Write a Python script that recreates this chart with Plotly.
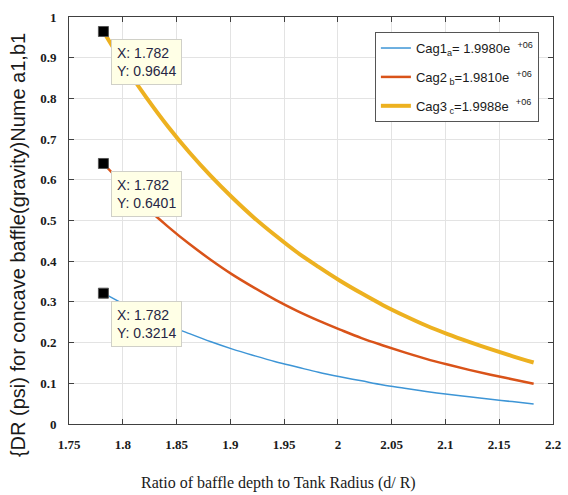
import plotly.graph_objects as go

# ---- data ----
x_vals = [1.782, 1.802, 1.822, 1.842, 1.862, 1.882, 1.902, 1.922, 1.942, 1.962, 1.982,
          2.002, 2.022, 2.042, 2.062, 2.082, 2.102, 2.122, 2.142, 2.162, 2.182]
cag1 = [0.3214, 0.293, 0.267, 0.243, 0.222, 0.202, 0.184, 0.168, 0.153, 0.140, 0.127,
        0.116, 0.106, 0.096, 0.088, 0.080, 0.073, 0.067, 0.061, 0.055, 0.049]
cag2 = [0.6401, 0.584, 0.532, 0.485, 0.442, 0.403, 0.367, 0.335, 0.305, 0.278, 0.254,
        0.232, 0.211, 0.193, 0.176, 0.160, 0.146, 0.133, 0.121, 0.110, 0.099]
cag3 = [0.9644, 0.879, 0.802, 0.731, 0.667, 0.609, 0.556, 0.507, 0.463, 0.422, 0.386,
        0.352, 0.321, 0.292, 0.266, 0.242, 0.221, 0.202, 0.184, 0.167, 0.151]
names = ["Cag1<sub>a</sub>= 1.9980e&nbsp;&nbsp;<sup>+06</sup>",
         "Cag2<sub> b</sub>=1.9810e&nbsp;&nbsp;<sup>+06</sup>",
         "Cag3<sub> c</sub>=1.9988e&nbsp;&nbsp;<sup>+06</sup>"]
colors = ["#3d95d6", "#D95319", "#EDB120"]
widths = [1.5, 2.5, 4]
tip_x = [1.782, 1.782, 1.782]
tip_y = [0.3214, 0.6401, 0.9644]
x_ticks = [1.75, 1.8, 1.85, 1.9, 1.95, 2, 2.05, 2.1, 2.15, 2.2]
y_ticks = [0, 0.1, 0.2, 0.3, 0.4, 0.5, 0.6, 0.7, 0.8, 0.9, 1]

fig = go.Figure()
for i, (ys, nm, c, w) in enumerate(zip([cag1, cag2, cag3], names, colors, widths)):
    fig.add_trace(go.Scatter(x=x_vals, y=ys, mode="lines", name=nm, legendgroup=f"g{i}",
                             line=dict(color=c, width=w, shape="spline")))

fig.add_trace(go.Scatter(x=tip_x, y=tip_y, mode="markers", showlegend=False,
                         marker=dict(symbol="square", size=10, color="black",
                                     line=dict(color="#555555", width=1)),
                         cliponaxis=False))

for tx, ty in zip(tip_x, tip_y):
    fig.add_annotation(x=tx, y=ty, xref="x", yref="y", showarrow=False,
                       xanchor="left", yanchor="top", xshift=8, yshift=-8,
                       text=f"X: {tx}<br>Y: {ty}", align="left",
                       bgcolor="#FFFFE6", bordercolor="#D0D0C8", borderwidth=1,
                       borderpad=5,
                       font=dict(family="Liberation Sans, Arial", size=14, color="#262645"))

# axis titles
fig.add_annotation(xref="paper", yref="paper", x=-0.105, y=0.44, showarrow=False,
                   xanchor="center", yanchor="middle",
                   textangle=-90, text="{DR (psi) for concave baffle(gravity)Nume a1,b1",
                   font=dict(family="Liberation Sans, Arial", size=20, color="#1a1a1a"))
fig.add_annotation(xref="paper", yref="paper", x=0.432, y=-0.145, showarrow=False,
                   xanchor="center", yanchor="middle",
                   text="Ratio of baffle depth to Tank Radius (d/ R)",
                   font=dict(family="Liberation Serif, Times New Roman", size=16, color="#1a1a1a"))

tickfont = dict(family="Liberation Serif, Times New Roman", size=13, color="#1a1a1a", weight="bold")
axis_common = dict(showgrid=True, gridcolor="#E3E3E3", gridwidth=1,
                   showline=True, linecolor="#404040", linewidth=1, mirror="ticks",
                   ticks="inside", ticklen=5, tickcolor="#404040",
                   zeroline=False, tickfont=tickfont, automargin=False)

fig.update_xaxes(range=[1.75, 2.2], tickvals=x_ticks, ticklabelstandoff=8, **axis_common)
fig.update_yaxes(range=[0, 1], tickvals=y_ticks, ticklabelstandoff=9, **axis_common)

fig.update_layout(
    width=568, height=495,
    margin=dict(l=69, r=15, t=17, b=71, autoexpand=False),
    paper_bgcolor="white", plot_bgcolor="white",
    legend=dict(x=0.632, y=0.963, xanchor="left", yanchor="top",
                bgcolor="white", bordercolor="#555555", borderwidth=1,
                font=dict(family="Liberation Sans, Arial", size=13, color="#1a1a1a"),
                tracegroupgap=9),
    showlegend=True,
)

fig.write_html("out.html", post_script="document.body.style.margin='0px';",
               config={"displayModeBar": False})
